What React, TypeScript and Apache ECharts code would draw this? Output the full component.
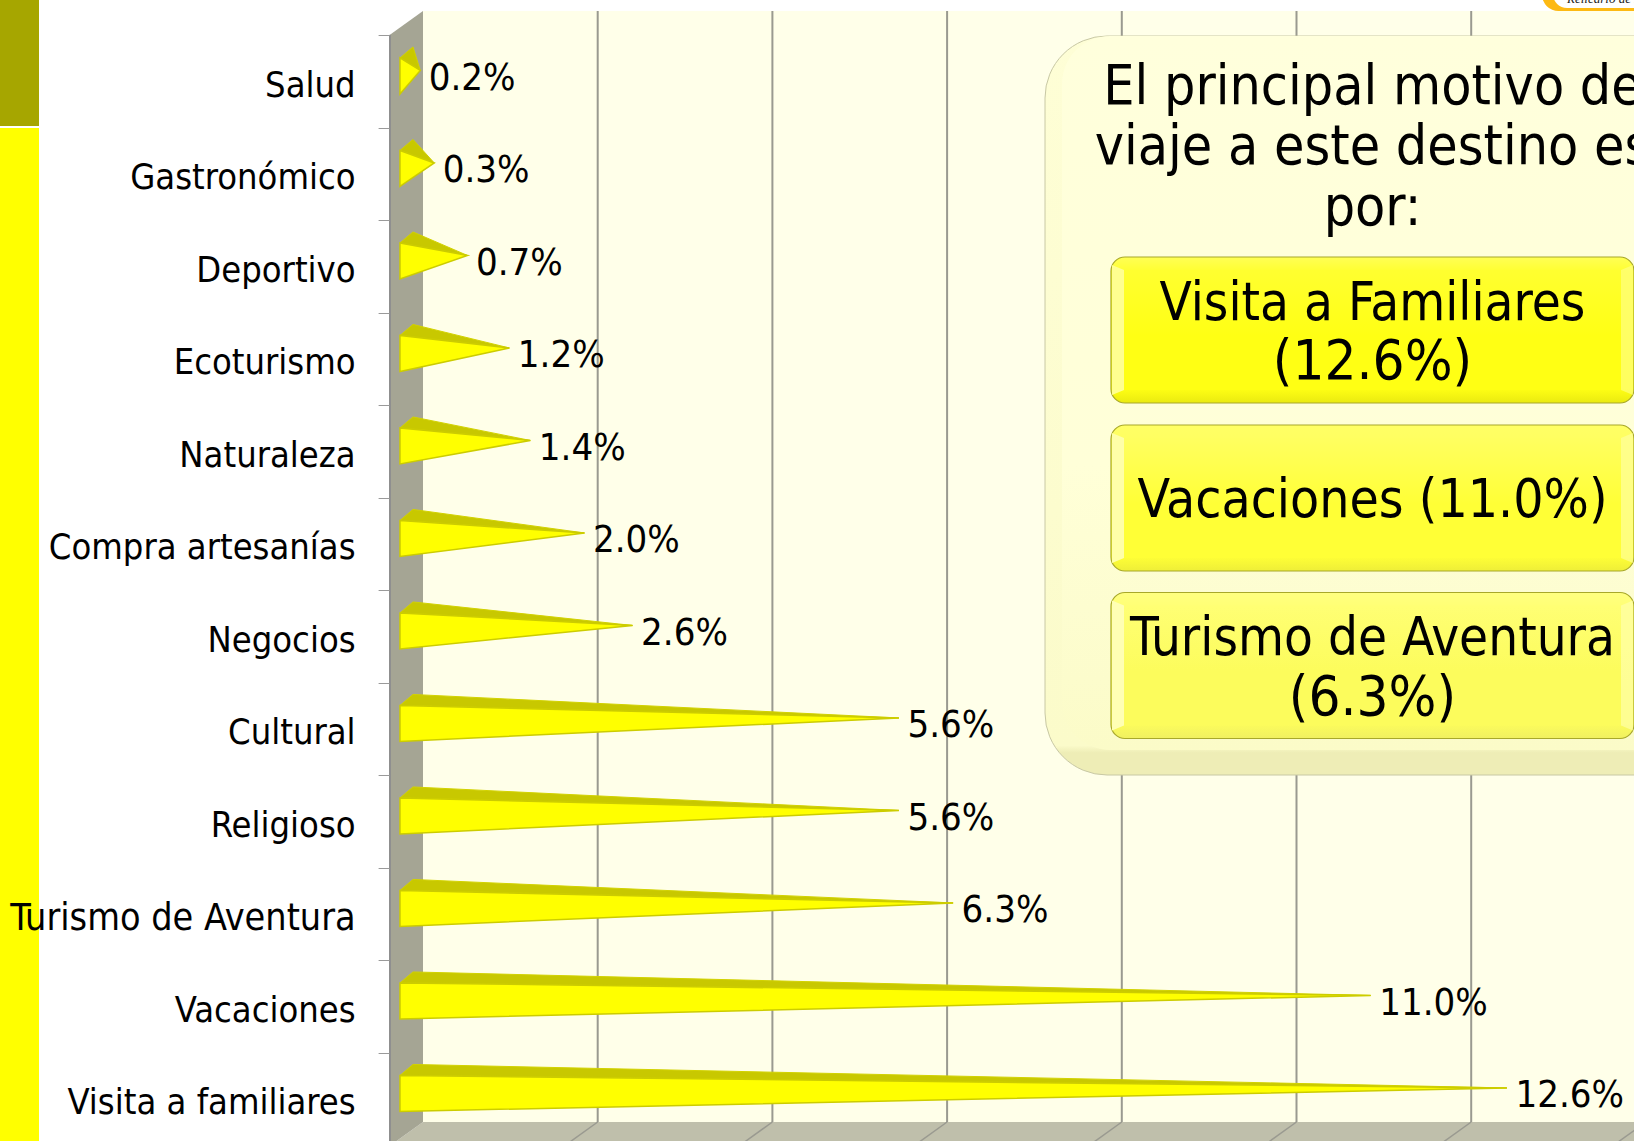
import React, { useEffect, useRef } from "react";
import * as echarts from "echarts";

const categories = ["Salud", "Gastronómico", "Deportivo", "Ecoturismo", "Naturaleza", "Compra artesanías", "Negocios", "Cultural", "Religioso", "Turismo de Aventura", "Vacaciones", "Visita a familiares"];
const values = [0.16, 0.32, 0.7, 1.18, 1.42, 2.04, 2.59, 5.64, 5.64, 6.26, 11.04, 12.6];
const gridTicks = [0, 2, 4, 6, 8, 10, 12, 14];
const panelTitle = "El principal motivo de\nviaje a este destino es\npor:";
const highlights = [["Visita a Familiares", "(12.6%)"], ["Vacaciones (11.0%)"], ["Turismo de Aventura", "(6.3%)"]];

const FONT = "'DejaVu Sans Condensed', 'DejaVu Sans', sans-serif";
const L = 389.6, T = 35.7, PX = 87.35, BAND = 92.5, DX = 33.4, DY = -24;
const W = PX * 14, H = BAND * 12;
const WALL_TOP = 11, WALL_BOTTOM = 1122;

function vgrad(stops: [number, string][]) {
  return { type: "linear", x: 0, y: 0, x2: 0, y2: 1, colorStops: stops.map(([offset, color]) => ({ offset, color })) };
}

function button(y: number, h: number, lines: string[], c: string[]) {
  const x = 1111, w = 523, z = 110;
  const textEls = lines.length === 1
    ? [{ type: "text", z: z + 3, style: { x: 1372.5, y: y + h / 2, text: lines[0], font: `53px ${FONT}`, fill: "#000", align: "center", verticalAlign: "middle" } }]
    : [
        { type: "text", z: z + 3, style: { x: 1372.5, y: y + h / 2 - 29, text: lines[0], font: `52.5px ${FONT}`, fill: "#000", align: "center", verticalAlign: "middle" } },
        { type: "text", z: z + 3, style: { x: 1372.5, y: y + h / 2 + 29.5, text: lines[1], font: `56px ${FONT}`, fill: "#000", align: "center", verticalAlign: "middle" } },
      ];
  return [
    { type: "rect", z, shape: { x, y, width: w, height: h, r: 14 }, style: { fill: vgrad([[0, c[0]], [0.1, c[1]], [0.9, c[2]], [1, c[3]]]), stroke: "#a8a82a", lineWidth: 1.2 } },
    { type: "polygon", z: z + 1, shape: { points: [[x + 1, y + 8], [x + 13, y + 13], [x + 13, y + h - 13], [x + 1, y + h - 8]] }, style: { fill: c[4] } },
    { type: "polygon", z: z + 1, shape: { points: [[x + w - 1, y + 8], [x + w - 13, y + 13], [x + w - 13, y + h - 13], [x + w - 1, y + h - 8]] }, style: { fill: c[4], opacity: 0.6 } },
    { type: "rect", z: z + 2, shape: { x: x + 13, y: y + 13, width: w - 26, height: h - 26 }, style: { fill: vgrad([[0, c[1]], [0.55, c[2]], [1, c[2]]]) } },
    ...textEls,
  ];
}

export default function App() {
  const ref = useRef<HTMLDivElement>(null);
  useEffect(() => {
    const chart = echarts.init(ref.current!, undefined, { renderer: "svg" });
    chart.setOption({
      animation: false,
      backgroundColor: "#ffffff",
      grid: { left: L, top: T, width: W, height: H, containLabel: false, outerBoundsMode: "none" },
      xAxis: { type: "value", min: 0, max: 14, interval: 2, axisLabel: { show: false }, axisTick: { show: false }, axisLine: { show: false }, splitLine: { show: false } },
      yAxis: {
        type: "category", data: categories, inverse: true, z: 5,
        axisLine: { show: true, lineStyle: { color: "#8f8f8f", width: 2 } },
        axisTick: { show: true, length: 11, alignWithLabel: false, lineStyle: { color: "#9a9a9a", width: 1 } },
        axisLabel: {
          margin: 34, color: "#000", fontSize: 36, fontFamily: FONT, interval: 0, align: "right",
          formatter: (v: string) => (v.length > 18 && v.startsWith("Turismo") ? `{t|${v}}` : `{a|${v}}`),
          rich: {
            a: { fontSize: 36, fontFamily: FONT, color: "#000", padding: [5, 0, 0, 0] },
            t: { fontSize: 37.4, fontFamily: FONT, color: "#000", padding: [5, 0, 0, 0] },
          },
        },
      },
      series: [
        {
          type: "custom", name: "grid", z: 1, silent: true, clip: false,
          data: gridTicks.filter((t) => t > 0).map((t) => [t]),
          encode: { x: 0 },
          renderItem(_p: any, api: any) {
            const [x] = api.coord([api.value(0), 0]);
            return {
              type: "group",
              children: [
                { type: "line", shape: { x1: x + DX, y1: WALL_TOP, x2: x + DX, y2: WALL_BOTTOM }, style: { stroke: "#9a9a90", lineWidth: 2 } },
                { type: "line", shape: { x1: x + DX, y1: WALL_BOTTOM, x2: x, y2: WALL_BOTTOM - DY }, style: { stroke: "#9a9a90", lineWidth: 1.5 } },
              ],
            };
          },
        },
        {
          type: "custom", name: "Motivo", z: 3, clip: false,
          data: values.map((v, i) => [v, i]),
          encode: { x: 0, y: 1 },
          renderItem(_p: any, api: any) {
            const v = api.value(0), cat = api.value(1);
            const [x, yc] = api.coord([v, cat]);
            const [x0] = api.coord([0, cat]);
            const fx = x0 + 10.4, fy = yc - 6, hh = 18, rx = 13, ry = -11;
            const tx = x + DX / 2, ty = fy + ry / 2;
            return {
              type: "group",
              children: [
                { type: "polygon", shape: { points: [[fx, fy - hh], [fx + rx, fy - hh + ry], [tx, ty]] }, style: { fill: "#c8c800", stroke: "#d2d200", lineWidth: 1 } },
                { type: "polygon", shape: { points: [[fx, fy - hh], [fx, fy + hh], [tx, ty]] }, style: { fill: "#ffff00", stroke: "#cccc00", lineWidth: 1.5 } },
                { type: "text", style: { x: tx + 8.5, y: ty + 6.5, text: `${v.toFixed(1)}%`, font: `38px ${FONT}`, fill: "#000", align: "left", verticalAlign: "middle" } },
              ],
            };
          },
        },
      ],
      graphic: {
        elements: [
          { type: "rect", z: 0, shape: { x: L + DX, y: WALL_TOP, width: 1300, height: WALL_BOTTOM - WALL_TOP }, style: { fill: "#ffffe9" } },
          { type: "polygon", z: 0, shape: { points: [[L + DX, WALL_BOTTOM], [1700, WALL_BOTTOM], [1700, WALL_BOTTOM - DY], [L, WALL_BOTTOM - DY]] }, style: { fill: "#bfbfab" } },
          { type: "polygon", z: 0, shape: { points: [[L, WALL_TOP - DY], [L + DX, WALL_TOP], [L + DX, WALL_BOTTOM], [L, WALL_BOTTOM - DY]] }, style: { fill: "#a5a594" } },
          { type: "rect", z: 0, shape: { x: 0, y: 0, width: 39, height: 126 }, style: { fill: "#a6a600" } },
          { type: "rect", z: 0, shape: { x: 0, y: 128, width: 39, height: 1013 }, style: { fill: "#ffff00" } },
          { type: "rect", z: 4, shape: { x: 1542, y: -22, width: 130, height: 33, r: 18 }, style: { fill: "#fdb913" } },
          { type: "rect", z: 5, shape: { x: 1553, y: -22, width: 130, height: 30, r: 14 }, style: { fill: "#ffffff" } },
          { type: "text", z: 6, style: { x: 1567, y: -2, text: "Relicario de Lourdes", font: "italic 13px 'Liberation Serif', serif", fill: "#222", align: "left", verticalAlign: "middle" } },
          { type: "rect", z: 100, shape: { x: 1045, y: 36, width: 660, height: 739, r: 62 }, style: { fill: vgrad([[0, "#fefed6"], [0.96, "#fbfbca"], [0.97, "#eeedb6"], [1, "#eeedb6"]]), stroke: "#c8c8a4", lineWidth: 1 } },
          { type: "rect", z: 101, shape: { x: 1062, y: 36, width: 640, height: 714, r: 48 }, style: { fill: vgrad([[0, "#ffffdc"], [0.6, "#ffffd8"], [1, "#fbfbc8"]]) } },
          { type: "text", z: 105, style: { x: 1372.5, y: 145, text: panelTitle, font: `55px ${FONT}`, fill: "#000", align: "center", verticalAlign: "middle", lineHeight: 60.5 } },
          ...button(257, 146, highlights[0], ["#ffff55", "#ffff30", "#ffff14", "#eaea10", "#ffff90"]),
          ...button(425, 146, highlights[1], ["#ffff66", "#ffff60", "#ffff36", "#eeee38", "#ffffa8"]),
          ...button(592.5, 146, highlights[2], ["#ffff80", "#ffff74", "#fcfc5c", "#f0f060", "#ffffb4"]),
        ],
      },
    });
    return () => chart.dispose();
  }, []);
  return <div ref={ref} style={{ position: "fixed", left: 0, top: 0, width: 1634, height: 1141, overflow: "hidden" }} />;
}
